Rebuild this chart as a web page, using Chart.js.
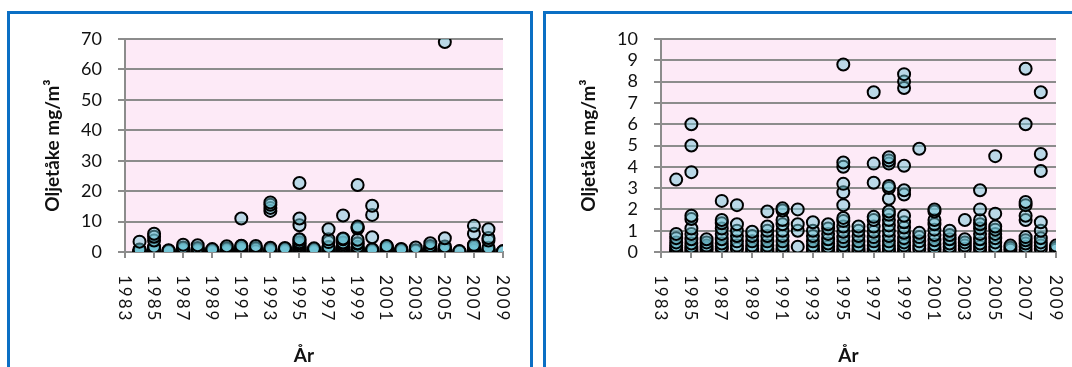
<!DOCTYPE html>
<html>
<head>
<meta charset="utf-8">
<script src="https://cdn.jsdelivr.net/npm/chart.js@4/dist/chart.umd.min.js"></script>
<style>
  html, body { margin: 0; padding: 0; background: #fff; width: 1072px; height: 367px; overflow: hidden; }
  .card { position: absolute; top: 11px; border: 3px solid #0b6fc4; box-sizing: border-box; height: 420px; }
  #cardA { left: 7px; width: 526px; }
  #cardB { left: 543px; width: 560px; }
  canvas { position: absolute; top: 0; }
  #chartA { left: 0; }
  #chartB { left: 536px; }
</style>
</head>
<body>
<div class="card" id="cardA"></div>
<div class="card" id="cardB"></div>
<canvas id="chartA" width="536" height="367" style="width:536px;height:367px"></canvas>
<canvas id="chartB" width="536" height="367" style="width:536px;height:367px"></canvas>
<script>
// Sampling years and the measured oil-mist concentrations (mg/m³) for each year
const years = [1984, 1985, 1986, 1987, 1988, 1989, 1990, 1991, 1992, 1993, 1994, 1995, 1996,
               1997, 1998, 1999, 2000, 2001, 2002, 2003, 2004, 2005, 2006, 2007, 2008, 2009];

const y1984 = [3.4, 0.85, 0.65, 0.45, 0.3, 0.2, 0.1, 0.05];
const y1985 = [6.0, 5.0, 3.75, 1.7, 1.55, 1.1, 0.85, 0.6, 0.4, 0.25, 0.15, 0.05];
const y1986 = [0.6, 0.45, 0.3, 0.2, 0.1];
const y1987 = [2.4, 1.5, 1.35, 1.1, 0.85, 0.6, 0.4, 0.25, 0.15];
const y1988 = [2.2, 1.3, 1.0, 0.75, 0.5, 0.3, 0.15];
const y1989 = [0.95, 0.75, 0.5, 0.3, 0.15, 0.05];
const y1990 = [1.9, 1.2, 1.0, 0.75, 0.5, 0.3, 0.15, 0.05];
const y1991 = [11.0, 2.05, 1.95, 1.5, 1.3, 1.0, 0.75, 0.5, 0.3, 0.15, 0.05];
const y1992 = [2.0, 1.3, 1.0, 0.25];
const y1993 = [16.3, 15.5, 14.5, 13.5, 1.4, 1.0, 0.75, 0.5, 0.3, 0.15, 0.05];
const y1994 = [1.3, 1.1, 0.85, 0.6, 0.4, 0.25, 0.1];
const y1995 = [22.7, 11.0, 8.8, 4.2, 4.0, 3.2, 2.8, 2.2, 1.6, 1.45, 1.2, 0.95, 0.7, 0.5, 0.3, 0.15, 0.05];
const y1996 = [1.2, 1.0, 0.75, 0.5, 0.3, 0.15, 0.05];
const y1997 = [7.5, 4.15, 3.25, 1.65, 1.5, 1.2, 0.95, 0.7, 0.5, 0.3, 0.15, 0.05];
const y1998 = [12.0, 4.45, 4.3, 4.15, 3.1, 3.0, 2.5, 1.9, 1.75, 1.5, 1.25, 1.0, 0.75, 0.5, 0.3, 0.15, 0.05];
const y1999 = [22.0, 8.35, 8.0, 7.7, 4.05, 2.9, 2.7, 1.7, 1.4, 1.15, 0.9, 0.65, 0.45, 0.3, 0.15, 0.05];
const y2000 = [15.2, 12.2, 4.85, 0.9, 0.7, 0.5, 0.3, 0.15];
const y2001 = [2.0, 1.9, 1.5, 1.3, 1.05, 0.8, 0.55, 0.35, 0.2, 0.1];
const y2002 = [1.0, 0.8, 0.6, 0.4, 0.25, 0.1];
const y2003 = [1.5, 0.6, 0.45, 0.3, 0.15];
const y2004 = [2.9, 2.0, 1.5, 1.3, 1.1, 0.85, 0.6, 0.4, 0.25, 0.1];
const y2005 = [69.0, 4.5, 1.8, 1.2, 1.05, 0.85, 0.65, 0.45, 0.25, 0.1];
const y2006 = [0.3, 0.2, 0.1];
const y2007 = [8.6, 6.0, 2.35, 2.2, 1.7, 1.5, 0.7, 0.55, 0.4, 0.25, 0.1];
const y2008 = [7.5, 4.6, 3.8, 1.4, 1.0, 0.65, 0.45, 0.3, 0.15];
const y2009 = [0.3, 0.2, 0.1];

const samplesByYear = [y1984, y1985, y1986, y1987, y1988, y1989, y1990, y1991, y1992, y1993,
                       y1994, y1995, y1996, y1997, y1998, y1999, y2000, y2001, y2002, y2003,
                       y2004, y2005, y2006, y2007, y2008, y2009];

// Axis tick labels
const yearTicks = [1983, 1985, 1987, 1989, 1991, 1993, 1995, 1997, 1999, 2001, 2003, 2005, 2007, 2009];
const fullRangeTicks = [0, 10, 20, 30, 40, 50, 60, 70];
const lowRangeTicks = [0, 1, 2, 3, 4, 5, 6, 7, 8, 9, 10];

const yTitle = 'Oljetåke mg/m³';
const xTitle = 'År';

// Flatten into scatter points; within a year the lowest values are drawn first
const points = [];
years.forEach((yr, i) => {
  [...samplesByYear[i]].sort((a, b) => a - b).forEach(v => points.push({ x: yr, y: v }));
});

Chart.defaults.font.family = 'Lato, "Open Sans", sans-serif';

const GRID = '#8c8c8c';
const INK = '#111';

// Pale pink fill behind the plot area
const plotBackground = {
  id: 'plotBackground',
  beforeDraw(chart) {
    const { ctx, chartArea: a } = chart;
    ctx.save();
    ctx.fillStyle = '#fdeaf7';
    ctx.fillRect(a.left, a.top, a.right - a.left, a.bottom - a.top);
    ctx.restore();
  }
};

// Year labels turned to read downwards, plus the x-axis title
const yearLabels = {
  id: 'yearLabels',
  afterDraw(chart) {
    const { ctx, chartArea: a } = chart;
    const xs = chart.scales.x;
    ctx.save();
    ctx.fillStyle = INK;
    ctx.font = '17px Lato';
    ctx.textBaseline = 'middle';
    ctx.textAlign = 'left';
    xs.ticks.forEach(t => {
      const px = xs.getPixelForValue(t.value) - 1;
      ctx.save();
      ctx.translate(px, 275);
      ctx.rotate(Math.PI / 2);
      let off = 0;
      for (const ch of String(t.value)) {
        ctx.fillText(ch, off, 0);
        off += ctx.measureText(ch).width + 2;
      }
      ctx.restore();
    });
    ctx.font = 'bold 19px Lato';
    ctx.textAlign = 'center';
    ctx.fillText(xTitle, (a.left + a.right) / 2 - 10, 356);
    ctx.restore();
  }
};

function buildChart(canvasId, yMax, yTicks, rightPad) {
  return new Chart(document.getElementById(canvasId), {
    type: 'scatter',
    data: {
      datasets: [{
        data: points,
        pointRadius: 6,
        pointHoverRadius: 6,
        borderWidth: 2,
        borderColor: '#000',
        backgroundColor: 'rgba(112,196,213,0.48)'
      }]
    },
    options: {
      responsive: false,
      animation: false,
      events: [],
      layout: { padding: { left: 0, top: 39, right: rightPad, bottom: 0 } },
      plugins: { legend: { display: false }, tooltip: { enabled: false } },
      scales: {
        x: {
          type: 'linear',
          min: 1983,
          max: 2009,
          afterBuildTicks: s => { s.ticks = yearTicks.map(v => ({ value: v })); },
          ticks: { display: false },
          grid: { display: true, drawOnChartArea: false, drawTicks: true, tickLength: 6, color: GRID, lineWidth: 2 },
          border: { display: true, color: GRID, width: 2 },
          afterFit: s => { s.height = 115; }
        },
        y: {
          type: 'linear',
          min: 0,
          max: yMax,
          afterBuildTicks: s => { s.ticks = yTicks.map(v => ({ value: v })); },
          ticks: { padding: 16, color: INK, font: { size: 18 }, autoSkip: false },
          grid: { color: GRID, lineWidth: 2, tickLength: 7 },
          border: { display: true, color: GRID, width: 2 },
          title: {
            display: true,
            text: yTitle,
            color: INK,
            font: { size: 19, weight: 'bold' },
            padding: { top: 41, bottom: 0 }
          },
          afterFit: s => { s.width = 125; }
        }
      }
    },
    plugins: [plotBackground, yearLabels]
  });
}

buildChart('chartA', 70, fullRangeTicks, 33);
buildChart('chartB', 10, lowRangeTicks, 16);
</script>
</body>
</html>
